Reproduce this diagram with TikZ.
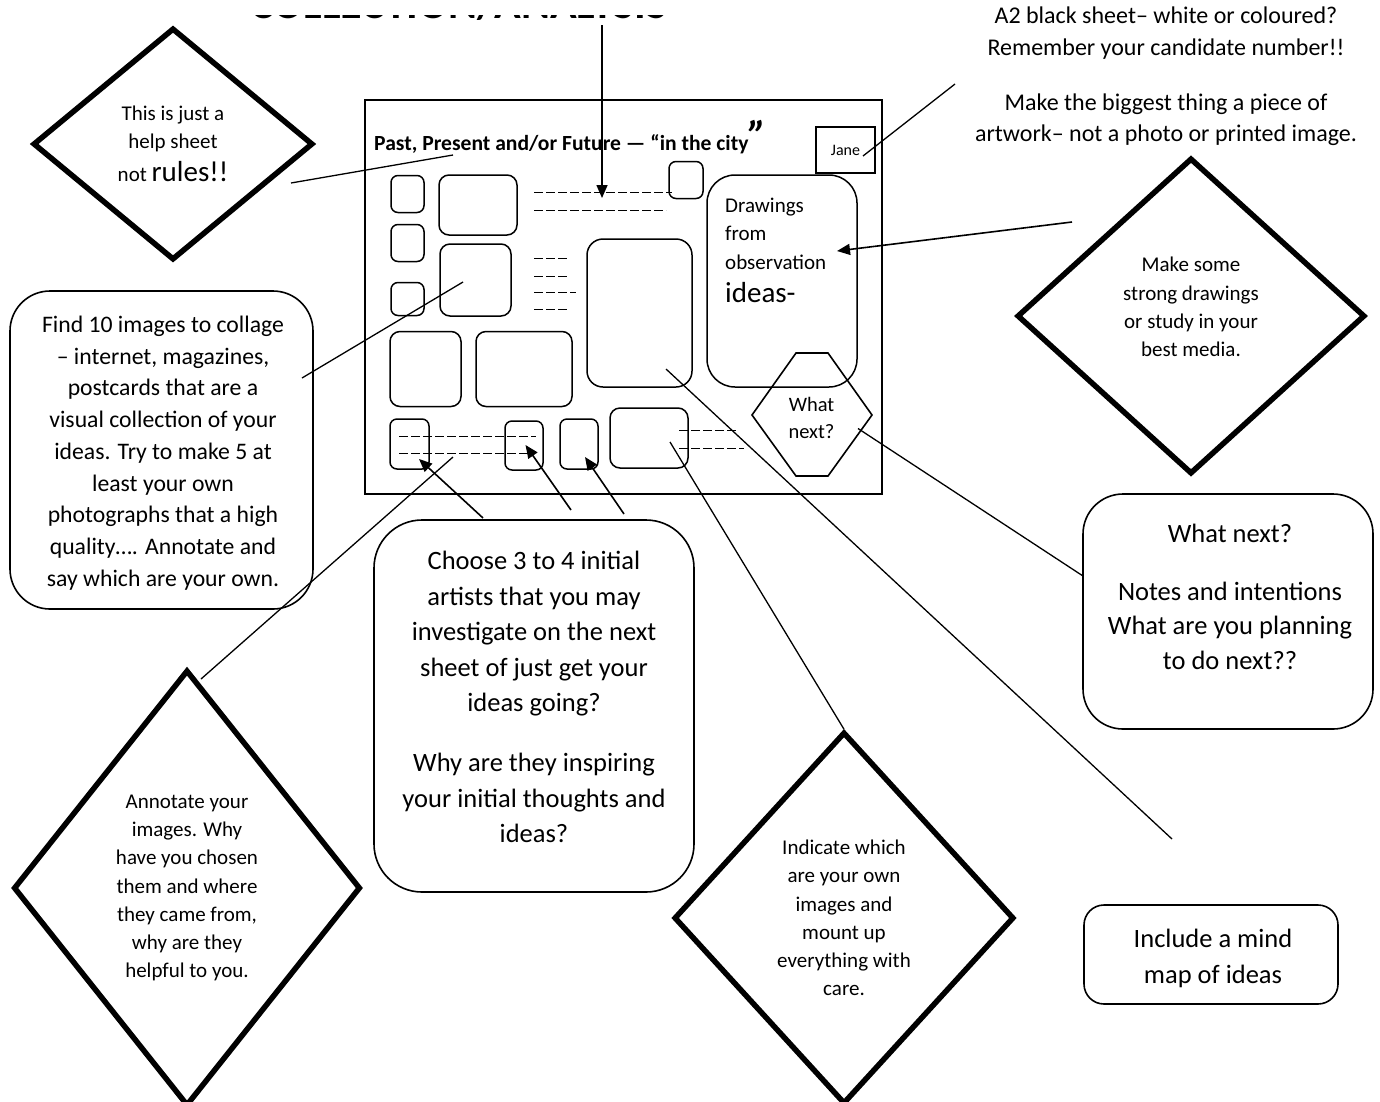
\documentclass[tikz,border=0pt]{standalone}
\usepackage{fontspec}
\setmainfont{Carlito}
\usetikzlibrary{arrows.meta,positioning,shapes.geometric}

\begin{document}
\begin{tikzpicture}[x=1pt,y=-1pt,>={Triangle[length=13pt,width=11pt]},
diamondnode/.style={diamond, draw=black, line width=5.5pt, inner sep=0pt, align=center, font=\fontsize{21}{28.2}\selectfont},
roundnode/.style={rectangle, rounded corners=#1, draw=black, line width=1.6pt, inner sep=0pt},
roundnode/.default=38pt,
imgnode/.style={rectangle, rounded corners=7pt, draw=black, line width=1.5pt, inner sep=0pt},
textnode/.style={align=center, inner sep=0pt},
dashline/.style={line width=0.9pt, dash pattern=on 9pt off 3pt},
linkline/.style={line width=1.3pt},
pointer/.style={->, line width=1.6pt},
]
\useasboundingbox (0,0) rectangle (1380,1101);
\clip (0,0) rectangle (1380,1101);

% Heading, mostly hidden: only the foot of the letters shows
\begin{scope}
\clip (0,15) rectangle (1380,30);
\node[anchor=base, inner sep=0pt, font=\fontsize{44}{44}\selectfont\bfseries] (heading) at (459,18.5) {COLLECTION/ANALYSIS};
\end{scope}

% Notes
\node[textnode, font=\fontsize{24}{32}\selectfont] (sheetnote) at (1166,33) {A2 black sheet– white or coloured?\\Remember your candidate number!!};
\node[textnode, font=\fontsize{24}{31}\selectfont] (artnote) at (1166,120) {Make the biggest thing a piece of\\artwork– not a photo or printed image.};

% Sheet
\node[draw, line width=2.2pt, inner sep=0pt, minimum width=517pt, minimum height=394pt] (sheet) at (623.5,297) {};
\node[anchor=base west, inner sep=0pt, font=\fontsize{21.6}{21.6}\selectfont\bfseries] (sheettitle) at (374,150) {Past, Present and/or Future — “in the city{\fontsize{42}{42}\selectfont\itshape ”}};
\node[draw, line width=1.6pt, inner sep=0pt, minimum width=59pt, minimum height=46pt, font=\fontsize{16}{16}\selectfont] (jane) at (845.5,150) {Jane};

\node[imgnode, minimum width=33pt, minimum height=37pt] (img1) at (407.5,194) {};
\node[imgnode, minimum width=33pt, minimum height=37pt] (img2) at (407.5,243) {};
\node[imgnode, minimum width=33pt, minimum height=33pt] (img3) at (407.5,299) {};
\node[imgnode, rounded corners=10pt, minimum width=78pt, minimum height=60pt] (img4) at (478,205) {};
\node[imgnode, rounded corners=10pt, minimum width=71pt, minimum height=72pt] (img5) at (475.5,280) {};
\node[imgnode, rounded corners=10pt, minimum width=71pt, minimum height=75pt] (img6) at (425.5,369) {};
\node[imgnode, rounded corners=10pt, minimum width=96pt, minimum height=75pt] (img7) at (524,369) {};
\node[imgnode, minimum width=34pt, minimum height=37pt] (img8) at (686,180) {};
\node[imgnode, rounded corners=16pt, minimum width=105pt, minimum height=148pt] (img9) at (639.5,313) {};
\node[imgnode, minimum width=39pt, minimum height=50pt] (img11) at (409.5,444) {};
\node[imgnode, minimum width=38pt, minimum height=49pt] (img12) at (524,445.5) {};
\node[imgnode, minimum width=38pt, minimum height=50pt] (img13) at (579,444) {};
\node[imgnode, rounded corners=10pt, minimum width=78pt, minimum height=60pt] (img14) at (649,438) {};

\node[imgnode, rounded corners=28pt, minimum width=150pt, minimum height=212pt] (drawbox) at (782,281) {};
\node[anchor=west, align=left, inner sep=0pt, font=\fontsize{21}{28.5}\selectfont] (drawtext) at (725,233.5) {Drawings\\from\\observation};
\node[anchor=base west, inner sep=0pt, font=\fontsize{29}{29}\selectfont] (ideastext) at (725,302) {ideas-};

\draw[line width=1.6pt] (796,353) -- (828,353) -- (872,415) -- (828,476) -- (796,476) -- (752,415) -- cycle;
\node[textnode, font=\fontsize{20.5}{27}\selectfont] (hextext) at (811.5,418) {What\\next?};

% Writing lines
\draw[dashline] (534,192) -- (672,192);
\draw[dashline] (534,210) -- (666,210);
\foreach \y/\x in {258/568, 276/568, 292/576, 309/568}
  \draw[dashline] (534,\y) -- (\x,\y);
\draw[dashline] (399,436) -- (536,436);
\draw[dashline] (399,453.5) -- (529,453.5);
\draw[dashline] (679,430) -- (738,430);
\draw[dashline] (679,448) -- (744,448);

% Boxes
\node[roundnode=40pt, minimum width=303pt, minimum height=318pt] (findbox) at (161.5,450) {};
\node[textnode, font=\fontsize{23.7}{31.7}\selectfont] (findtext) at (163,453) {Find 10 images to collage\\– internet, magazines,\\postcards that are a\\visual collection of your\\ideas. Try to make 5 at\\least your own\\photographs that a high\\quality…. Annotate and\\say which are your own.};

\node[roundnode=48pt, minimum width=320pt, minimum height=372pt] (choosebox) at (534,706) {};
\node[textnode, font=\fontsize{26.5}{35.5}\selectfont] (choosetext) at (534,697) {Choose 3 to 4 initial\\artists that you may\\investigate on the next\\sheet of just get your\\ideas going?\\[24.5pt]Why are they inspiring\\your initial thoughts and\\ideas?};

\node[roundnode=40pt, minimum width=290pt, minimum height=235pt] (nextbox) at (1228,611.5) {};
\node[textnode, font=\fontsize{26.5}{34.5}\selectfont] (nexttext) at (1230,597) {What next?\\[23pt]Notes and intentions\\What are you planning\\to do next??};

\node[roundnode=20pt, minimum width=254pt, minimum height=99pt] (mindbox) at (1211,954.5) {};
\node[textnode, font=\fontsize{26.5}{35.5}\selectfont] (mindtext) at (1213,958.5) {Include a mind\\map of ideas};

% Diamonds
\node[diamondnode, minimum width=280pt, minimum height=232pt] (helpdiamond) at (173,144) {This is just a\\help sheet\\[5pt]not {\fontsize{29}{29}\selectfont rules!!}};
\node[diamondnode, text depth=18pt, minimum width=348pt, minimum height=316pt] (mediadiamond) at (1191,316) {Make some\\strong drawings\\or study in your\\best media.};
\node[diamondnode, minimum width=347pt, minimum height=436pt] (annotatediamond) at (187,888) {Annotate your\\images. Why\\have you chosen\\them and where\\they came from,\\why are they\\helpful to you.};
\node[diamondnode, minimum width=340pt, minimum height=372pt] (indicatediamond) at (844,918) {Indicate which\\are your own\\images and\\mount up\\everything with\\care.};

% Pointers
\coordinate (headfoot) at (602,25);
\coordinate (topdash) at (602,198);
\coordinate (mediatail) at (1072,222);
\coordinate (drawtip) at (837,251);
\coordinate (choosetail1) at (483,518);
\coordinate (choosetail2) at (571,510);
\coordinate (choosetail3) at (624,514);
\coordinate (dashtip1) at (419,459);
\coordinate (dashtip2) at (525.5,445);
\coordinate (dashtip3) at (585,457);
\draw[pointer] (headfoot) -- (topdash);
\draw[pointer] (mediatail) -- (drawtip);
\draw[pointer] (choosetail1) -- (dashtip1);
\draw[pointer] (choosetail2) -- (dashtip2);
\draw[pointer] (choosetail3) -- (dashtip3);

% Lines
\coordinate (helptail) at (291,183);
\coordinate (titlehead) at (453,155);
\coordinate (janetail) at (955,84);
\coordinate (janehead) at (863,156);
\coordinate (findtail) at (302,378);
\coordinate (imgfivehead) at (463,282);
\coordinate (annotatetail) at (201,679);
\coordinate (dashhead) at (453,457);
\coordinate (imgninehead) at (666,369);
\coordinate (mindtail) at (1172,839);
\coordinate (imgfourteenhead) at (670,442);
\coordinate (hexhead) at (858,428.5);
\coordinate (nextleft) at (1083,576);
\draw[linkline] (helptail) -- (titlehead);
\draw[linkline] (janetail) -- (janehead);
\draw[linkline] (findtail) -- (imgfivehead);
\draw[linkline] (annotatetail) -- (dashhead);
\draw[linkline] (imgninehead) -- (mindtail);
\draw[linkline] (imgfourteenhead) -- (indicatediamond.north);
\draw[linkline] (hexhead) -- (nextleft);

\end{tikzpicture}
\end{document}
